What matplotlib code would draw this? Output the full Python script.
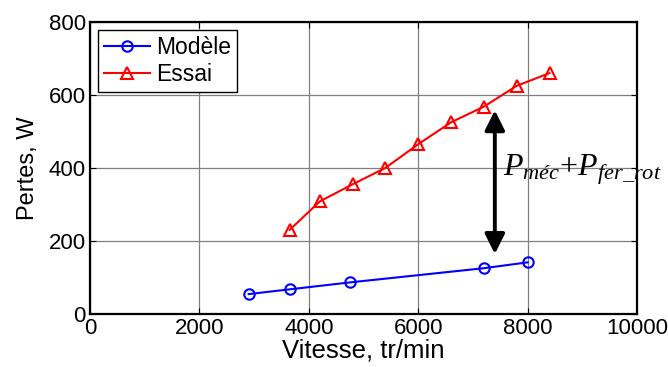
import matplotlib
matplotlib.use("Agg")
import matplotlib.pyplot as plt

plt.rcParams['font.family'] = ['Liberation Sans', 'DejaVu Sans']
plt.rcParams['mathtext.fontset'] = 'custom'
plt.rcParams['mathtext.rm'] = 'Liberation Serif'
plt.rcParams['mathtext.it'] = 'Liberation Serif:italic'

# valeurs
vitesse_modele = [2900, 3650, 4750, 7200, 8000]
pertes_modele = [54, 67, 86, 125, 141]
vitesse_essai = [3650, 4200, 4800, 5400, 6000, 6600, 7200, 7800, 8400]
pertes_essai = [230, 308, 355, 400, 465, 525, 568, 625, 660]

xticks = [0, 2000, 4000, 6000, 8000, 10000]
yticks = [0, 200, 400, 600, 800]

fig = plt.figure(figsize=(6.68, 3.67), dpi=100)
ax = fig.add_axes([0.1347, 0.145, 0.819, 0.795])

ax.plot(vitesse_modele, pertes_modele, color='blue', lw=1.5, marker='o', ms=7.5,
        mfc='none', mew=1.5, label='Modèle')
ax.plot(vitesse_essai, pertes_essai, color='red', lw=1.5, marker='^', ms=8,
        mfc='none', mew=1.5, label='Essai')

# fleche double entre les courbes
ax.annotate('', xy=(7400, 164), xytext=(7400, 558),
            arrowprops=dict(arrowstyle='<|-|>', color='black', lw=2.8,
                            mutation_scale=30, shrinkA=0, shrinkB=0))
ax.text(7550, 395, r'$P_{méc}{+}P_{fer\_rot}$', fontsize=23, va='center', ha='left')

ax.set_xlim(0, 10000)
ax.set_ylim(0, 800)
ax.set_xticks(xticks)
ax.set_yticks(yticks)
ax.grid(True, color='#808080', lw=0.9)
ax.tick_params(direction='in', top=True, right=True, labelsize=16, length=4, pad=3)
for s in ax.spines.values():
    s.set_linewidth(1.6)

ax.set_xlabel('Vitesse, tr/min', fontsize=18.5, labelpad=0)
ax.set_ylabel('Pertes, W', fontsize=17, labelpad=7)

leg = ax.legend(loc='upper left', fontsize=16.5, fancybox=False, framealpha=1,
                edgecolor='black', borderaxespad=0.35, handlelength=2.0,
                borderpad=0.25, labelspacing=0.2, handletextpad=0.3)
leg.get_frame().set_linewidth(1.0)

fig.savefig('out.png', dpi=100)
